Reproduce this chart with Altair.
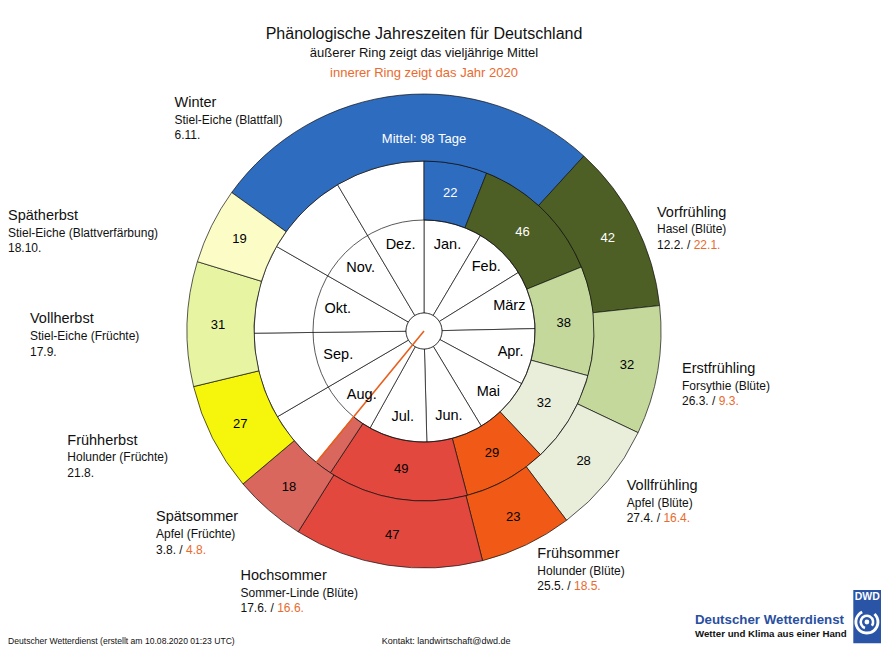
import math
import altair as alt
import pandas as pd

# ---------------- data ----------------
SEASONS = ["Winter", "Vorfrühling", "Erstfrühling", "Vollfrühling", "Frühsommer",
           "Hochsommer", "Spätsommer", "Frühherbst", "Vollherbst", "Spätherbst"]
PLANTS = ["Stiel-Eiche (Blattfall)", "Hasel (Blüte)", "Forsythie (Blüte)", "Apfel (Blüte)",
          "Holunder (Blüte)", "Sommer-Linde (Blüte)", "Apfel (Früchte)", "Holunder (Früchte)",
          "Stiel-Eiche (Früchte)", "Stiel-Eiche (Blattverfärbung)"]
MEAN_START = ["6.11.", "12.2.", "26.3.", "27.4.", "25.5.", "17.6.", "3.8.", "21.8.", "17.9.", "18.10."]
MEAN_DAYS = [98, 42, 32, 28, 23, 47, 18, 27, 31, 19]
START_2020 = ["", "22.1.", "9.3.", "16.4.", "18.5.", "16.6.", "4.8.", "", "", ""]
DAYS_2020 = [22, 46, 38, 32, 29, 49, None, None, None, None]
TODAY_2020 = "10.8."
MONTHS = ["Jan.", "Feb.", "März", "Apr.", "Mai", "Jun.", "Jul.", "Aug.", "Sep.", "Okt.", "Nov.", "Dez."]
MONTH_DAYS = [31, 28, 31, 30, 31, 30, 31, 31, 30, 31, 30, 31]

TITLE = "Phänologische Jahreszeiten für Deutschland"
SUB1 = "äußerer Ring zeigt das vieljährige Mittel"
SUB2 = "innerer Ring zeigt das Jahr 2020"
FOOT_LEFT = "Deutscher Wetterdienst (erstellt am 10.08.2020 01:23 UTC)"
FOOT_MID = "Kontakt: landwirtschaft@dwd.de"

# ---------------- styles / layout ----------------
SEASON_COLORS = ["#2e6cbf", "#4e5f25", "#c4d89c", "#e9eedb", "#f05a16",
                 "#e3483f", "#d9675d", "#f6f60c", "#e7f5a2", "#fbfcc6"]
WHITE_TEXT = ["Winter", "Vorfrühling"]
ORANGE = "#ea6a2e"
HAND = "#e8601c"
LINE = "#111111"
LW = 0.7
FONT = "Liberation Sans"
W, H = 878, 645
CX, CY = 416, 323               # clock centre inside the chart
R_HUB, R_MONTH, R_IN, R_OUT = 18, 111, 170, 237
# top-left of every annotation block, relative to the clock centre
LABEL_OFFSET = {
    "Winter": (-249.5, -228), "Vorfrühling": (233, -118.3), "Erstfrühling": (258, 38),
    "Vollfrühling": (202.7, 155), "Frühsommer": (113.3, 223), "Hochsommer": (-183.5, 245),
    "Spätsommer": (-268, 186.3), "Frühherbst": (-356.7, 109.7), "Vollherbst": (-394, -11.7),
    "Spätherbst": (-416, -115),
}
NAME_SIZE, SMALL_SIZE = 14.5, 12
PLANT_DY, DATE_DY = 16.6, 32.3

# ---------------- derived tables ----------------
def day_of_year(date, leap):
    d, m = [int(p) for p in date.strip(".").split(".")]
    lengths = MONTH_DAYS.copy()
    if leap:
        lengths[1] = 29
    return sum(lengths[:m - 1]) + d

# long-term mean (outer ring)
outer = []
for s, st, n in zip(SEASONS, MEAN_START, MEAN_DAYS):
    a = day_of_year(st, False)
    outer.append({"season": s, "start": a / 365, "end": (a + n) / 365, "label": str(n)})
outer = pd.DataFrame(outer)
outer["mid"] = (outer["start"] + outer["end"]) / 2

# year 2020 (inner ring)
today = day_of_year(TODAY_2020, True)
starts = [0] + [day_of_year(d, True) for d in START_2020 if d]
ends = starts[1:] + [today]
inner = []
for i, (a, b) in enumerate(zip(starts, ends)):
    inner.append({"season": SEASONS[i], "start": a / 366, "end": b / 366,
                  "label": "" if DAYS_2020[i] is None else str(DAYS_2020[i])})
inner = pd.DataFrame(inner)
inner["mid"] = (inner["start"] + inner["end"]) / 2

# months
cum = [0]
for d in MONTH_DAYS:
    cum.append(cum[-1] + d)
months = pd.DataFrame({"month": MONTHS,
                       "start": [c / 365 for c in cum[:-1]],
                       "end": [c / 365 for c in cum[1:]]})
months["mid"] = (months["start"] + months["end"]) / 2

hand = pd.DataFrame({"start": [today / 366], "end": [today / 366]})
full = pd.DataFrame({"start": [0.0], "end": [1.0]})

# annotation blocks
ARIAL = {**{c: 0.556 for c in "0123456789"}, ".": 0.278, " ": 0.278, "/": 0.278}
def width(s, size):
    return sum(ARIAL.get(c, 0.5) for c in s) * size

ann = []
for s, p, m, y20 in zip(SEASONS, PLANTS, MEAN_START, START_2020):
    dx, dy = LABEL_OFFSET[s]
    x0, y0 = CX + dx, CY + dy
    black = m + (" / " if y20 else "")
    ann.append({"x": x0, "y": y0, "t": s, "kind": "name", "col": "black"})
    ann.append({"x": x0, "y": y0 + PLANT_DY, "t": p, "kind": "small", "col": "black"})
    ann.append({"x": x0, "y": y0 + DATE_DY, "t": black, "kind": "small", "col": "black"})
    if y20:
        ann.append({"x": x0 + width(black, SMALL_SIZE), "y": y0 + DATE_DY, "t": y20,
                    "kind": "small", "col": "orange"})
ann = pd.DataFrame(ann)

# ---------------- chart ----------------
THETA = alt.Scale(domain=[0, 1], range=[0, 2 * math.pi])
CENTER = dict(x=alt.value(CX), y=alt.value(CY))
COLOR = alt.Color("season:N", scale=alt.Scale(domain=SEASONS, range=SEASON_COLORS), legend=None)

def th(field):
    return alt.Theta(f"{field}:Q", scale=THETA, stack=False)

month_arcs = alt.Chart(months).mark_arc(radius=R_IN, radius2=R_HUB, fill="white",
                                         stroke=LINE, strokeWidth=LW).encode(
    theta=th("start"), theta2="end", **CENTER)
inner_arcs = alt.Chart(inner).mark_arc(radius=R_IN, radius2=R_MONTH, stroke=LINE,
                                        strokeWidth=LW).encode(
    theta=th("start"), theta2="end", color=COLOR, **CENTER)
outer_arcs = alt.Chart(outer).mark_arc(radius=R_OUT, radius2=R_IN, stroke=LINE,
                                        strokeWidth=LW).encode(
    theta=th("start"), theta2="end", color=COLOR, **CENTER)
month_circle = alt.Chart(full).mark_arc(radius=R_MONTH, radius2=0, filled=False,
                                         stroke=LINE, strokeWidth=LW).encode(
    theta=th("start"), theta2="end", **CENTER)
hub = alt.Chart(full).mark_arc(radius=R_HUB, radius2=0, fill="white", stroke=LINE,
                               strokeWidth=LW).encode(theta=th("start"), theta2="end", **CENTER)
hand_line = alt.Chart(hand).mark_arc(radius=R_IN, radius2=0, filled=False, stroke=HAND,
                                     strokeWidth=1.6).encode(
    theta=th("start"), theta2="end", **CENTER)

def ring_text(df, radius, colour, size):
    return alt.Chart(df).mark_text(radius=radius, fontSize=size, font=FONT, fill=colour,
                                   align="center", baseline="middle").encode(
        theta=th("mid"), text="label:N", **CENTER)

outer_lab = outer[outer["season"] != "Winter"]
inner_lab = inner[inner["label"] != ""]
texts = [
    ring_text(months.rename(columns={"month": "label"}), 89, "black", 14.5),
    ring_text(inner_lab[inner_lab["season"].isin(WHITE_TEXT)], 140, "white", 13),
    ring_text(inner_lab[~inner_lab["season"].isin(WHITE_TEXT)], 140, "black", 13),
    ring_text(outer_lab[outer_lab["season"].isin(WHITE_TEXT)], 206, "white", 13),
    ring_text(outer_lab[~outer_lab["season"].isin(WHITE_TEXT)], 206, "black", 13),
    ring_text(pd.DataFrame({"mid": [0.0], "label": [f"Mittel: {MEAN_DAYS[0]} Tage"]}),
              192, "white", 13),
]

def ann_layer(kind, col, size):
    df = ann[(ann["kind"] == kind) & (ann["col"] == col)]
    return alt.Chart(df).mark_text(fontSize=size, font=FONT, align="left", baseline="middle",
                                   fill="#111111" if col == "black" else ORANGE).encode(
        x=alt.X("x:Q", scale=None), y=alt.Y("y:Q", scale=None), text="t:N")

annotations = [ann_layer("name", "black", NAME_SIZE), ann_layer("small", "black", SMALL_SIZE),
               ann_layer("small", "orange", SMALL_SIZE)]

def fixed_text(t, x, y, size, colour="#111111", align="center", weight="normal"):
    return alt.Chart(pd.DataFrame({"t": [t]})).mark_text(
        fontSize=size, font=FONT, fill=colour, align=align, baseline="middle",
        fontWeight=weight).encode(x=alt.value(x), y=alt.value(y), text="t:N")

titles = [
    fixed_text(TITLE, CX, 25.5, 16),
    fixed_text(SUB1, CX, 44.5, 13),
    fixed_text(SUB2, CX, 64.5, 13, ORANGE),
    fixed_text(FOOT_LEFT, 0, 633, 8.6, align="left"),
    fixed_text(FOOT_MID, 373.7, 633, 9, align="left"),
    fixed_text("Deutscher Wetterdienst", 687, 612, 13.3, "#2a4f9f", "left", "bold"),
    fixed_text("Wetter und Klima aus einer Hand", 687, 625.5, 9.7, "#111111", "left", "bold"),
]

# DWD logo
LOGO_BLUE = "#2a55a6"
logo_box = alt.Chart(full).mark_rect(fill=LOGO_BLUE).encode(
    x=alt.value(845.3), x2=alt.value(873), y=alt.value(582), y2=alt.value(635.3))
logo_txt = fixed_text("DWD", 859.2, 588.5, 10.5, "white", "center", "bold")
LC = dict(x=alt.value(858.9), y=alt.value(614))
spiral = pd.DataFrame({"start": [0.12, 0.55, 0.0], "end": [0.93, 1.35, 1.0],
                       "r": [12.5, 7.5, 2.4], "r2": [9.6, 4.9, 0.0]})
logo_spiral = alt.Chart(spiral).mark_arc(fill="white").encode(
    theta=th("start"), theta2="end",
    radius=alt.Radius("r:Q", scale=None), radius2="r2:Q", **LC)

chart = alt.layer(
    month_arcs, inner_arcs, outer_arcs, month_circle, hub, hand_line,
    *texts, *annotations, *titles, logo_box, logo_txt, logo_spiral
).properties(
    width=W, height=H, padding=0, autosize=alt.AutoSizeParams(type="none"),
    background="white"
).configure_view(stroke="transparent")

chart.save("out.html", embed_options={"renderer": "svg", "actions": False})
